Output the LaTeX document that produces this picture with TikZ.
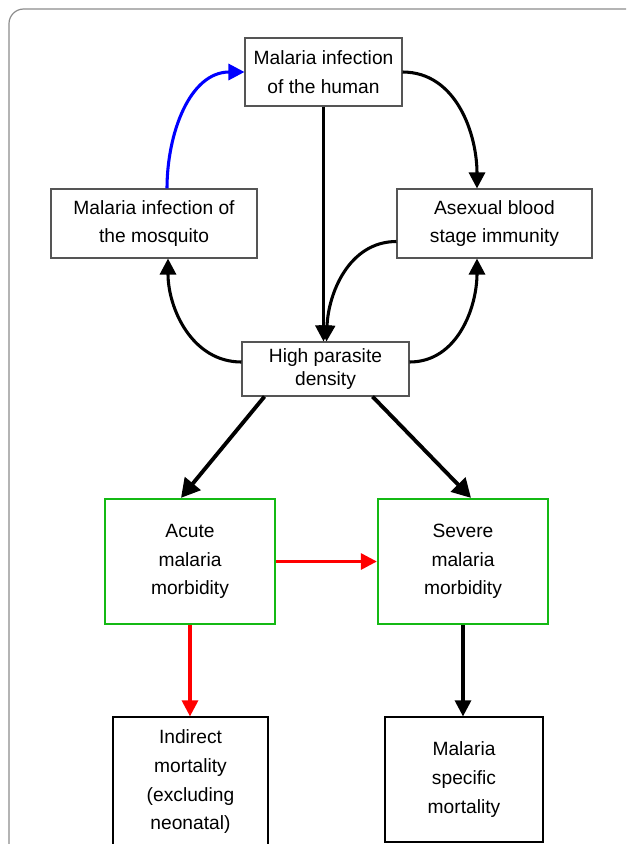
\documentclass[tikz,border=0pt]{standalone}
\usepackage{fontspec}
\setmainfont{Liberation Sans}
\usetikzlibrary{arrows.meta,calc}
\definecolor{boxgray}{RGB}{85,85,85}
\definecolor{framegray}{RGB}{140,140,140}
\definecolor{boxgreen}{RGB}{20,185,20}
\begin{document}
\begin{tikzpicture}[x=0.75pt,y=0.75pt,
  every node/.style={font=\fontsize{14.4}{21.5}\selectfont, align=center, inner sep=0pt},
  gbox/.style={draw=boxgray, line width=0.8pt, rectangle},
  grbox/.style={draw=boxgreen, line width=1.7pt, rectangle},
  kbox/.style={draw=black, line width=0.9pt, rectangle},
  arr/.style={line width=2.3pt, -{Triangle[length=12pt,width=12pt]}},
  bigarr/.style={line width=2.9pt, -{Triangle[length=14pt,width=15pt]}}
]
\useasboundingbox (0,0) rectangle (626,-844);
\clip (0,0) rectangle (626,-844);
% outer frame
\draw[framegray, line width=0.9pt, rounded corners=11pt] (9,-860) -- (9,-9) -- (640,-9);

% nodes
\node[gbox, minimum width=117.75pt, minimum height=51pt] (human) at (323.5,-72) {Malaria infection\\of the human};
\node[gbox, minimum width=154.5pt, minimum height=51.75pt] (mosq) at (154,-223.5) {Malaria infection of\\the mosquito};
\node[gbox, minimum width=146.25pt, minimum height=51.75pt] (asex) at (494.5,-223.5) {Asexual blood\\stage immunity};
\node[gbox, minimum width=125.25pt, minimum height=40.5pt, font=\fontsize{14.4}{17.5}\selectfont] (hpd) at (325.5,-369) {High parasite\\density};
\node[grbox, minimum width=127.5pt, minimum height=93.75pt] (acute) at (190,-561.5) {Acute\\malaria\\morbidity};
\node[grbox, minimum width=127.5pt, minimum height=93.75pt] (severe) at (463,-561.5) {Severe\\malaria\\morbidity};
\node[kbox, minimum width=116.25pt, minimum height=97.5pt] (indirect) at (190.5,-782) {Indirect\\mortality\\(excluding\\neonatal)};
\node[kbox, minimum width=118.5pt, minimum height=93.75pt] (spec) at (464,-779.5) {Malaria\\specific\\mortality};

% connectors
\draw[arr, blue] ($(mosq.north)+(13,0)$) to[out=90,in=180] (human.west);
\draw[arr] (human.east) to[out=0,in=90] ($(asex.north)+(-17.5,0)$);
\draw[arr] (human.south) -- (human.south |- hpd.north);
\draw[arr] ($(asex.west)+(0,-18)$) to[out=180,in=88] ($(hpd.north)+(1,0)$);
\draw[arr] ($(hpd.west)+(0,7)$) to[out=180,in=-90] ($(mosq.south)+(14,0)$);
\draw[arr] ($(hpd.east)+(0,7)$) to[out=0,in=-90] ($(asex.south)+(-17.5,0)$);
\draw[bigarr] ($(hpd.south)+(-61,0)$) -- ($(acute.north)+(-9,0)$);
\draw[bigarr] ($(hpd.south)+(47,0)$) -- ($(severe.north)+(8,0)$);
\draw[arr, red] (acute.east) -- (severe.west);
\draw[arr, red] (acute.south) -- (acute.south |- indirect.north);
\draw[arr] (severe.south) -- (severe.south |- spec.north);
\end{tikzpicture}
\end{document}
